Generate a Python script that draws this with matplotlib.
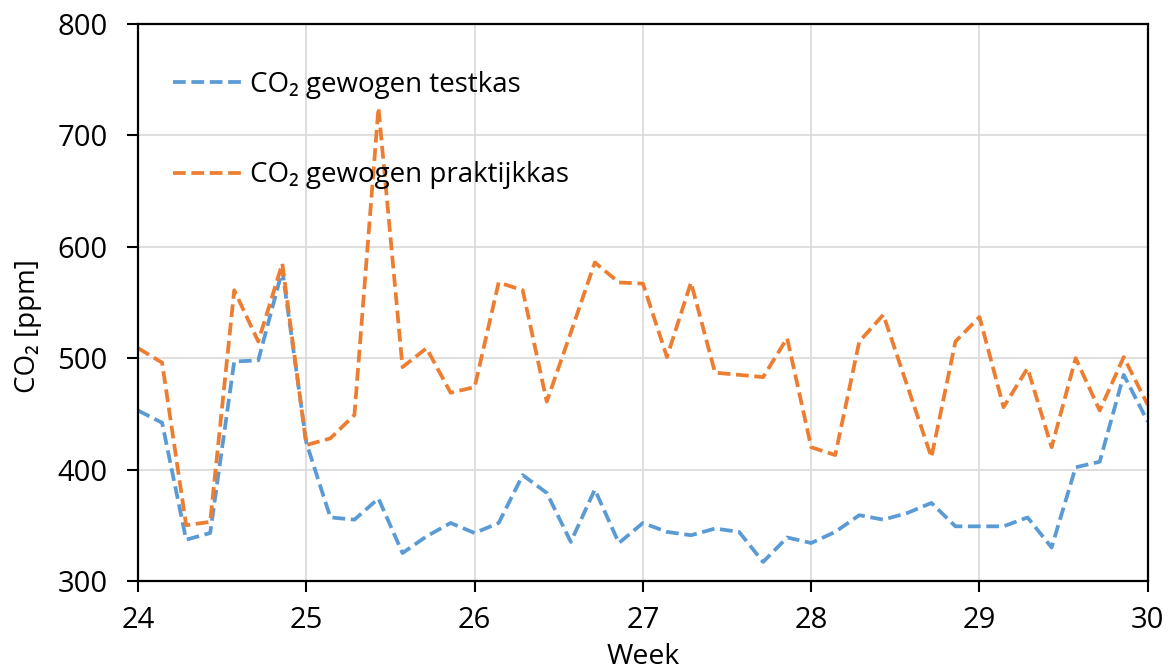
import matplotlib
matplotlib.use("Agg")
import matplotlib.pyplot as plt
import numpy as np

plt.rcParams['font.family'] = ['Open Sans', 'DejaVu Sans']

# dagwaarden, week 24 t/m 30
testkas = [453, 442, 337, 343, 497, 498, 579, 424, 357, 355, 374, 325, 340, 352,
           343, 352, 395, 379, 335, 382, 334, 352, 344, 341, 347, 344, 317, 339,
           334, 344, 359, 355, 361, 370, 349, 349, 349, 357, 330, 402, 407, 485,
           443]
praktijkkas = [509, 496, 350, 353, 561, 515, 585, 422, 428, 449, 725, 492, 509, 469,
               474, 568, 561, 461, 523, 586, 568, 567, 501, 568, 487, 485, 483, 518,
               420, 413, 515, 539, 475, 411, 515, 537, 456, 491, 420, 500, 453, 501,
               458]
week = 24 + np.arange(len(testkas)) / 7

fig = plt.figure(figsize=(11.7, 6.7), dpi=100)
ax = fig.add_axes([0.118, 0.133, 0.863, 0.831])

dash = (0, (3.4, 1.5))
ax.plot(week, testkas, color='#5B9BD5', lw=2.7, linestyle=dash,
        label='CO₂ gewogen testkas')
ax.plot(week, praktijkkas, color='#ED7D31', lw=2.7, linestyle=dash,
        label='CO₂ gewogen praktijkkas')

ax.set_xlim(24, 30)
ax.set_ylim(300, 800)
ax.set_xticks(range(24, 31))
ax.set_yticks(range(300, 801, 100))
ax.grid(True, color='#D9D9D9', lw=1.2)
ax.set_axisbelow(True)

for s in ax.spines.values():
    s.set_linewidth(1.6)
    s.set_color('black')
ax.tick_params(axis='both', labelsize=21, length=8, width=1.5, direction='out')
ax.tick_params(axis='x', pad=10)
ax.tick_params(axis='y', pad=14)

ax.set_xlabel('Week', fontsize=20.5, labelpad=6)
ax.set_ylabel('CO₂ [ppm]', fontsize=20)
ax.yaxis.set_label_coords(-0.095, 0.458)

ax.legend(loc='upper left', bbox_to_anchor=(0.035, 0.916), frameon=False,
          fontsize=20, handlelength=2.55, handletextpad=0.22, labelspacing=2.25,
          borderaxespad=0, borderpad=0)

fig.savefig('out.png', dpi=100)
